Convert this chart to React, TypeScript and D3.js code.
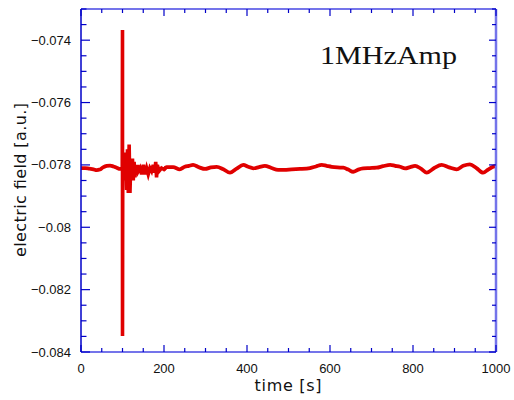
import * as React from "react";
import * as d3 from "d3";

// time [s] and electric field [a.u.]
const times = [
  0, 10, 20, 30, 38, 45, 53, 62, 70, 78, 86, 94, 99.4,
  100, 100, 100.6, 104, 106, 108, 110, 112, 114, 116, 118, 120, 122, 124, 126, 128,
  130, 132, 134, 136, 138, 142, 146, 150, 154, 158, 162, 166, 170, 174, 178, 180,
  182, 184, 188, 194, 200,
  206, 222, 238, 250, 260, 270, 285, 299, 313, 327, 343, 359, 375, 391, 403, 415,
  429, 443, 459, 475, 490, 508, 528, 552, 566, 580, 592, 604, 618, 632, 644, 656,
  668, 680, 696, 712, 728, 745, 757, 769, 781, 793, 805, 819, 833, 851, 869, 887,
  905, 921, 937, 953, 969, 981, 993, 1000,
];
const field = [
  -0.0781, -0.0781, -0.07812, -0.07814, -0.07817, -0.07815, -0.07808, -0.07803,
  -0.07802, -0.07805, -0.07809, -0.07813, -0.07812,
  -0.07367, -0.08349, -0.07812, -0.0779, -0.0785, -0.0776, -0.0788, -0.0775,
  -0.0789, -0.07735, -0.0789, -0.0779, -0.0784, -0.0778, -0.0785, -0.0779,
  -0.0784, -0.078, -0.0783, -0.078, -0.0782, -0.0781, -0.0783, -0.078, -0.0783,
  -0.0781, -0.0783, -0.0781, -0.0782, -0.078, -0.07825, -0.0779,
  -0.0784, -0.078, -0.0782, -0.0781, -0.07815,
  -0.07807, -0.07807, -0.07814, -0.07806, -0.07803, -0.078, -0.07808, -0.07813,
  -0.07808, -0.07806, -0.07814, -0.07825, -0.07812, -0.078, -0.07806, -0.07811,
  -0.07807, -0.07803, -0.0781, -0.07816, -0.07816, -0.07814, -0.07813, -0.0781,
  -0.07805, -0.078, -0.07803, -0.07806, -0.07808, -0.07809, -0.07815, -0.07822,
  -0.07815, -0.07811, -0.0781, -0.07809, -0.07804, -0.078, -0.07803, -0.07806,
  -0.07811, -0.07807, -0.07803, -0.07812, -0.07825, -0.0781, -0.078, -0.07808,
  -0.07814, -0.07803, -0.07798, -0.0781, -0.07825, -0.07815, -0.07806, -0.07803,
];
const xTicks = [0, 200, 400, 600, 800, 1000];
const yTicks = [-0.084, -0.082, -0.08, -0.078, -0.076, -0.074];
const yTickLabels = ["\u22120.084", "\u22120.082", "\u22120.08", "\u22120.078", "\u22120.076", "\u22120.074"];

const width = 514;
const height = 400;
const left = 81;
const right = 496;
const top = 9;
const bottom = 352;

const tickColor = "#0000c8";
const frameColor = "#7474ea";
const sans = "'Liberation Sans', Arial, sans-serif";
const wide = "'DejaVu Sans', sans-serif";

export default function App() {
  const x = d3.scaleLinear().domain([0, 1000]).range([left, right]);
  const y = d3.scaleLinear().domain([-0.084, -0.073]).range([bottom, top]);

  const pts = times.map((t, i) => [t, field[i]] as [number, number]);
  // quiet parts are drawn smooth, the burst around the spike straight
  const before = pts.filter(p => p[0] <= 99.4);
  const burst = pts.filter(p => p[0] >= 99.4 && p[0] <= 206);
  const after = pts.filter(p => p[0] >= 200);

  const smooth = d3
    .line<[number, number]>()
    .x(d => x(d[0]))
    .y(d => y(d[1]))
    .curve(d3.curveMonotoneX);
  const straight = d3
    .line<[number, number]>()
    .x(d => x(d[0]))
    .y(d => y(d[1]));

  const xMinor = d3.range(0, 1001, 50);
  const yMinor = d3.range(0, 23).map(i => -0.084 + i * 0.0005);

  const red = "#e00000";

  return (
    <svg width={width} height={height} style={{ position: "absolute", left: 0, top: 0 }}>
      <rect width={width} height={height} fill="#fff" />

      <path d={smooth(before) || ""} fill="none" stroke={red} strokeWidth={3.8} />
      <path d={straight(burst) || ""} fill="none" stroke={red} strokeWidth={3.6} />
      <path d={smooth(after) || ""} fill="none" stroke={red} strokeWidth={3.8} />

      {/* frame */}
      <line x1={left} x2={right} y1={top} y2={top} stroke={frameColor} strokeWidth={2} />
      <line x1={left} x2={right} y1={bottom} y2={bottom} stroke={frameColor} strokeWidth={2} />
      <line x1={right} x2={right} y1={top} y2={bottom} stroke={frameColor} strokeWidth={2.5} />
      <line x1={left} x2={left} y1={top} y2={bottom} stroke={tickColor} strokeWidth={1.5} />

      {/* x ticks, bottom and top */}
      {xMinor.map(t => {
        const major = t % 200 === 0;
        const len = major ? 7 : 4;
        return (
          <g key={"x" + t}>
            <line x1={x(t)} x2={x(t)} y1={bottom} y2={bottom - len} stroke={tickColor} strokeWidth={1.2} />
            <line x1={x(t)} x2={x(t)} y1={top} y2={top + len} stroke={tickColor} strokeWidth={1.2} />
          </g>
        );
      })}

      {/* y ticks, left and right */}
      {yMinor.map((v, i) => {
        const major = i % 4 === 0;
        return (
          <g key={"y" + i}>
            <line x1={left} x2={left + (major ? 9 : 5.5)} y1={y(v)} y2={y(v)} stroke={tickColor} strokeWidth={1.2} />
            <line x1={right} x2={right - (major ? 7 : 4)} y1={y(v)} y2={y(v)} stroke={tickColor} strokeWidth={1.2} />
          </g>
        );
      })}

      {xTicks.map(t => (
        <text key={"xl" + t} x={x(t)} y={373} textAnchor="middle" fontFamily={sans} fontSize={13} fill="#111">
          {t}
        </text>
      ))}
      {yTicks.map((v, i) => (
        <text key={"yl" + i} x={71} y={y(v)} dy="0.35em" textAnchor="end" fontFamily={sans} fontSize={13} fill="#111">
          {yTickLabels[i]}
        </text>
      ))}

      <text x={288} y={391} textAnchor="middle" fontFamily={wide} fontSize={16} fill="#111"
        textLength={67} lengthAdjust="spacing">
        time [s]
      </text>
      <text transform={`translate(26,180) rotate(-90)`} textAnchor="middle" fontFamily={wide} fontSize={16} fill="#111"
        textLength={154} lengthAdjust="spacing">
        electric field [a.u.]
      </text>

      <text x={320} y={64} fontFamily="'Liberation Serif', 'Times New Roman', serif" fontSize={26} fill="#111"
        textLength={137} lengthAdjust="spacingAndGlyphs">
        1MHzAmp
      </text>
    </svg>
  );
}
